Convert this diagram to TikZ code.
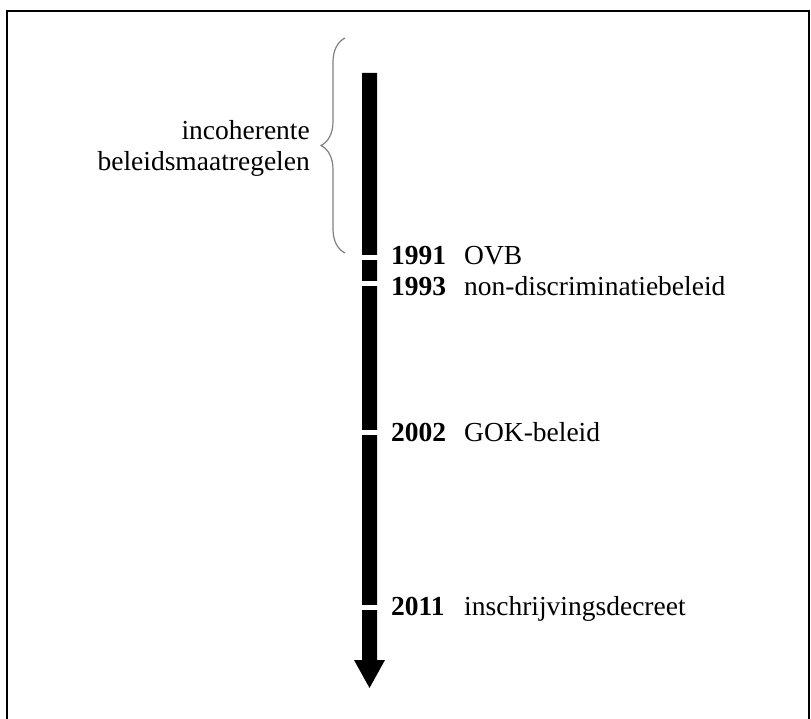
\documentclass[tikz,border=0pt]{standalone}
\usepackage{fontspec}
\setmainfont{Liberation Serif}
\usetikzlibrary{arrows.meta,calc,positioning,decorations.pathreplacing}

\begin{document}
\begin{tikzpicture}[x=1pt, y=-1pt,
	year/.style={font=\fontsize{27.5}{31}\selectfont\bfseries, anchor=base west, inner sep=0pt},
	event/.style={font=\fontsize{27.5}{31}\selectfont, anchor=base west, inner sep=0pt},
	gap/.style={fill=white}]
		\useasboundingbox (0,0) rectangle (811,719);
		% frame
		\draw[line width=2pt] (7,719) -- (7,11) -- (809,11) -- (809,719);
		% time axis
		\fill (362,73) -- (377,73) -- (377,660) -- (385,660) -- (369.5,688) -- (354,660) -- (362,660) -- cycle;
		\fill[gap] (360,255) rectangle (379,260);
		\fill[gap] (360,281) rectangle (379,286);
		\fill[gap] (360,430) rectangle (379,435);
		\fill[gap] (360,605) rectangle (379,610);
		% events
		\node[year] (y91) at (391,265) {1991};
		\node[event] (e91) at (464,265) {OVB};
		\node[year] (y93) at (391,296) {1993};
		\node[event] (e93) at (464,296) {non-discriminatiebeleid};
		\node[year] (y02) at (391,441) {2002};
		\node[event] (e02) at (464,441) {GOK-beleid};
		\node[year] (y11) at (391,615) {2011};
		\node[event] (e11) at (464,615) {inschrijvingsdecreet};
		% brace
		\coordinate (btop) at (345,38);
		\coordinate (bbot) at (345,253);
		\draw[gray, line width=1.2pt, decorate, decoration={brace, amplitude=24pt}] (bbot) -- (btop);
		\node[event, anchor=base east] (inc) at (310,140) {incoherente};
		\node[event, anchor=base east] (bel) at (310,171) {beleidsmaatregelen};
	\end{tikzpicture}
\end{document}
